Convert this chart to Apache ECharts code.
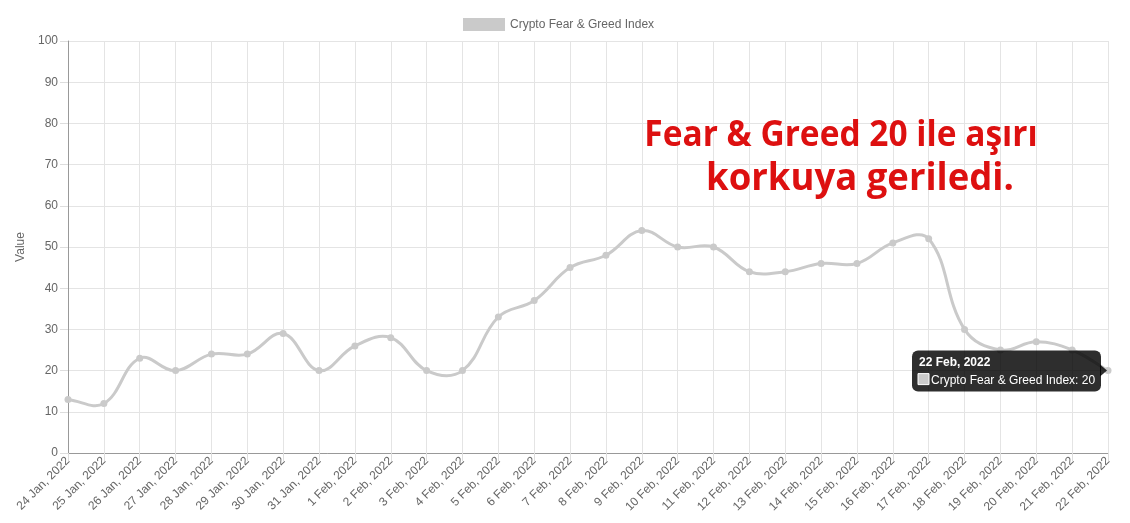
<!DOCTYPE html>
<html>
<head>
<meta charset="utf-8">
<script src="https://cdn.jsdelivr.net/npm/echarts@6/dist/echarts.min.js"></script>
<style>
html,body{margin:0;padding:0;background:#fff;}
#chart{width:1130px;height:523px;}
</style>
</head>
<body>
<div id="chart"></div>
<script>
const categories = ['24 Jan, 2022','25 Jan, 2022','26 Jan, 2022','27 Jan, 2022','28 Jan, 2022','29 Jan, 2022','30 Jan, 2022','31 Jan, 2022','1 Feb, 2022','2 Feb, 2022','3 Feb, 2022','4 Feb, 2022','5 Feb, 2022','6 Feb, 2022','7 Feb, 2022','8 Feb, 2022','9 Feb, 2022','10 Feb, 2022','11 Feb, 2022','12 Feb, 2022','13 Feb, 2022','14 Feb, 2022','15 Feb, 2022','16 Feb, 2022','17 Feb, 2022','18 Feb, 2022','19 Feb, 2022','20 Feb, 2022','21 Feb, 2022','22 Feb, 2022'];
const fearGreed = [13,12,23,20,24,24,29,20,26,28,20,20,33,37,45,48,54,50,50,44,44,46,46,51,52,30,25,27,25,20];
const seriesName = 'Crypto Fear & Greed Index';
const yTicks = {min:0, max:100, interval:10};
const headline1 = 'Fear & Greed 20 ile aşırı';
const headline2 = 'korkuya geriledi.';

const font = 'Liberation Sans, Arial, sans-serif';
const LINE_COLOR = '#cacaca';
const TENSION = 0.4;

// Chart.js-style spline drawn through pixel coords obtained from the axes
function renderCurve(params, api) {
  if (params.dataIndex !== 0) return null;
  const n = fearGreed.length;
  const pts = [];
  for (let i = 0; i < n; i++) {
    const c = api.coord([i, fearGreed[i]]);
    pts.push({x:c[0], y:c[1]});
  }
  const cs = params.coordSys;
  const top = cs.y, bottom = cs.y + cs.height;
  const ctrl = pts.map((cur, i) => {
    const prev = pts[i-1] || cur, next = pts[i+1] || cur;
    const d01 = Math.hypot(cur.x-prev.x, cur.y-prev.y);
    const d12 = Math.hypot(next.x-cur.x, next.y-cur.y);
    let s01 = d01/(d01+d12), s12 = d12/(d01+d12);
    if (isNaN(s01)) s01 = 0; if (isNaN(s12)) s12 = 0;
    const fa = TENSION*s01, fb = TENSION*s12;
    const clampY = v => Math.max(top, Math.min(bottom, v));
    return {
      px: cur.x - fa*(next.x-prev.x), py: clampY(cur.y - fa*(next.y-prev.y)),
      nx: cur.x + fb*(next.x-prev.x), ny: clampY(cur.y + fb*(next.y-prev.y))
    };
  });
  const children = [];
  for (let i = 0; i < n-1; i++) {
    children.push({
      type:'bezierCurve',
      shape:{x1:pts[i].x, y1:pts[i].y, cpx1:ctrl[i].nx, cpy1:ctrl[i].ny,
             cpx2:ctrl[i+1].px, cpy2:ctrl[i+1].py, x2:pts[i+1].x, y2:pts[i+1].y},
      style:{stroke:LINE_COLOR, lineWidth:3, fill:null, lineCap:'round', lineJoin:'round'}
    });
  }
  return {type:'group', children};
}

const chart = echarts.init(document.getElementById('chart'), null, {renderer:'canvas'});
chart.setOption({
  animation:false,
  legend:{
    top:13, left:458,
    itemWidth:42, itemHeight:13, itemGap:10,
    icon:'rect',
    textStyle:{color:'#666', fontSize:12, fontFamily:font},
    data:[{name:seriesName, itemStyle:{color:LINE_COLOR, borderWidth:0}}]
  },
  grid:{left:68, right:22, top:41, bottom:70, containLabel:false},
  xAxis:{
    type:'category', data:categories, boundaryGap:false,
    axisLine:{lineStyle:{color:'#999', width:1}},
    axisTick:{show:true, length:8, lineStyle:{color:'#ddd'}, alignWithLabel:true},
    axisLabel:{rotate:45, margin:6, color:'#666', fontSize:12, fontFamily:font, interval:0},
    splitLine:{show:true, lineStyle:{color:'#e4e4e4', width:1}}
  },
  yAxis:{
    type:'value', min:yTicks.min, max:yTicks.max, interval:yTicks.interval,
    name:'Value', nameLocation:'middle', nameGap:40, nameRotate:90,
    nameTextStyle:{color:'#666', fontSize:12, fontFamily:font},
    axisLine:{show:true, lineStyle:{color:'#999', width:1}},
    axisTick:{show:true, length:8, lineStyle:{color:'#ddd'}},
    axisLabel:{margin:10, color:'#666', fontSize:12, fontFamily:font},
    splitLine:{show:true, lineStyle:{color:'#e4e4e4', width:1}}
  },
  series:[{
    name:seriesName, type:'custom', renderItem:renderCurve,
    data:fearGreed.map((v,i)=>[i,v]), clip:false, z:3,
    itemStyle:{color:LINE_COLOR}, silent:true
  },{
    name:seriesName, type:'scatter', data:fearGreed.map((v,i)=>[i,v]),
    symbol:'circle', symbolSize:7, itemStyle:{color:LINE_COLOR, opacity:1}, z:4
  }]
});

// headline + tooltip drawn at the last data point's pixel position
const lastIdx = fearGreed.length - 1;
const pt = chart.convertToPixel({gridIndex:0}, [lastIdx, fearGreed[lastIdx]]);
const bx = pt[0] - 196, by = pt[1] - 20, bw = 189, bh = 41;
const tipFill = 'rgba(0,0,0,0.82)';
chart.setOption({
  graphic:[
    {id:'h1', type:'text', x:841, y:118, scaleX:0.93, z:50,
     style:{text:headline1, fill:'#dd1010', font:'bold 36px "Open Sans", sans-serif', align:'center'}},
    {id:'h2', type:'text', x:860, y:160, scaleX:0.96, z:50,
     style:{text:headline2, fill:'#dd1010', font:'bold 38px "Open Sans", sans-serif', align:'center'}},
    {id:'tipBox', type:'rect', z:100, shape:{x:bx, y:by, width:bw, height:bh, r:6}, style:{fill:tipFill}},
    {id:'tipArrow', type:'polygon', z:100, shape:{points:[[bx+bw-1, pt[1]-6],[pt[0]-1, pt[1]],[bx+bw-1, pt[1]+6]]}, style:{fill:tipFill}},
    {id:'tipTitle', type:'text', z:101, x:bx+7, y:by+6, style:{text:categories[lastIdx], fill:'#fff', font:'bold 12px Liberation Sans, Arial, sans-serif'}},
    {id:'tipSwatch', type:'rect', z:101, shape:{x:bx+6, y:by+23, width:11, height:11}, style:{fill:LINE_COLOR, stroke:'#fff', lineWidth:1}},
    {id:'tipText', type:'text', z:101, x:bx+19, y:by+24, style:{text:seriesName + ': ' + fearGreed[lastIdx], fill:'#fff', font:'12px Liberation Sans, Arial, sans-serif'}}
  ]
});
</script>
</body>
</html>
